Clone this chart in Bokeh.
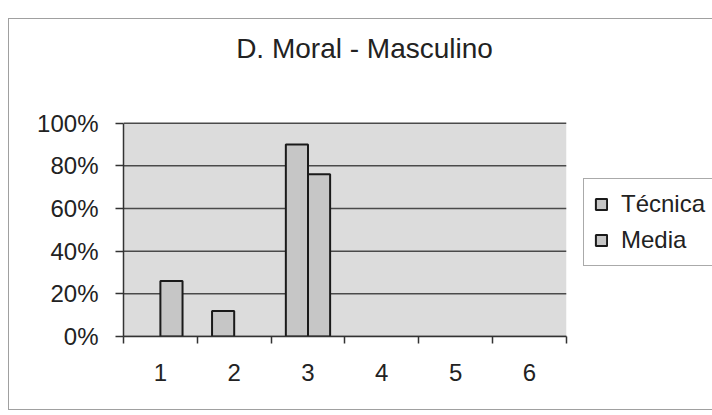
from bokeh.plotting import figure
from bokeh.models import (ColumnDataSource, FixedTicker, Legend, LegendItem,
                          NumeralTickFormatter, BoxAnnotation, Label)
from bokeh.embed import file_html
from bokeh.resources import INLINE

# ---- data ----
categories = [1, 2, 3, 4, 5, 6]
tecnica = [0.0, 0.12, 0.90, 0.0, 0.0, 0.0]
media = [0.26, 0.0, 0.76, 0.0, 0.0, 0.0]
y_ticks = [0, 0.2, 0.4, 0.6, 0.8, 1.0]
series_names = ["Técnica", "Media"]
title_text = "D. Moral - Masculino"

FONT = "Liberation Sans"
TEXT = "#222222"

x_lo = categories[0] - 0.5
x_hi = categories[-1] + 0.5
y_lo = y_ticks[0]
y_hi = y_ticks[-1]
# the frame is widened to the right and raised to the top so that the
# legend and the chart title (drawn inside it) are not clipped
frame_w, area_w = 589, 442
frame_h, area_h = 315, 212
x_end = x_lo + (x_hi - x_lo) * frame_w / area_w
y_end = y_lo + (y_hi - y_lo) * frame_h / area_h

p = figure(width=704, height=392, x_range=(x_lo, x_end), y_range=(y_lo, y_end),
           output_backend="svg", toolbar_location=None,
           min_border_left=114, min_border_right=0,
           min_border_top=0, min_border_bottom=75,
           margin=(18, 0, 0, 8))
p.styles = {"border-left": "1px solid #a0a0a0", "border-top": "1px solid #a0a0a0",
            "border-bottom": "1px solid #a0a0a0", "box-sizing": "border-box"}

p.background_fill_color = "white"
p.border_fill_color = "white"
p.outline_line_color = None

# plot area background
p.add_layout(BoxAnnotation(left=x_lo, right=x_hi, bottom=y_lo, top=y_hi,
                           fill_color="#dcdcdc", fill_alpha=1, line_color=None,
                           level="underlay"))
# horizontal gridlines
p.segment(x0=[x_lo] * len(y_ticks), x1=[x_hi] * len(y_ticks), y0=y_ticks, y1=y_ticks,
          line_color="#4a4a4a", line_width=1.5)

bw = 0.30
off = bw / 2


def src(vals, shift):
    xs = [c + shift for c, v in zip(categories, vals) if v > 0]
    ys = [v for v in vals if v > 0]
    return ColumnDataSource(dict(x=xs, top=ys))


r1 = p.vbar(x="x", top="top", width=bw, source=src(tecnica, -off),
            fill_color="#c6c6c6", line_color="#1a1a1a", line_width=2)
r2 = p.vbar(x="x", top="top", width=bw, source=src(media, off),
            fill_color="#c6c6c6", line_color="#1a1a1a", line_width=2)

# chart title (centred over the whole chart area)
p.add_layout(Label(x=241, y=288, x_units="screen", y_units="screen",
                   text=title_text, text_align="center", text_baseline="alphabetic",
                   text_font=FONT, text_font_size="28px", text_color=TEXT))

# axes
p.yaxis.ticker = FixedTicker(ticks=y_ticks)
p.yaxis.formatter = NumeralTickFormatter(format="0%")
p.yaxis.bounds = (y_lo, y_hi)
p.xaxis.ticker = FixedTicker(ticks=categories,
                             minor_ticks=[c - 0.5 for c in categories] + [x_hi])
p.xaxis.bounds = (x_lo, x_hi)
for ax in (p.xaxis[0], p.yaxis[0]):
    ax.axis_line_color = "#333333"
    ax.axis_line_width = 1.5
    ax.major_label_text_font = FONT
    ax.major_label_text_font_size = "24px"
    ax.major_label_text_color = TEXT
    ax.major_tick_line_color = "#333333"
    ax.major_tick_line_width = 1.5
    ax.major_tick_in = 0

p.yaxis.major_tick_out = 8
p.yaxis.minor_tick_line_color = None
p.yaxis.major_label_standoff = 17
p.xaxis.major_tick_out = 0
p.xaxis.minor_tick_in = 0
p.xaxis.minor_tick_out = 7
p.xaxis.minor_tick_line_color = "#333333"
p.xaxis.minor_tick_line_width = 1.5
p.xaxis.major_label_standoff = 20

p.xgrid.grid_line_color = None
p.ygrid.grid_line_color = None

legend = Legend(items=[LegendItem(label=series_names[0], renderers=[r1]),
                       LegendItem(label=series_names[1], renderers=[r2])],
                location=(460, 70))
legend.label_text_font = FONT
legend.label_text_font_size = "24px"
legend.label_text_color = TEXT
legend.glyph_width = 14
legend.glyph_height = 14
legend.label_standoff = 13
legend.label_height = 30
legend.spacing = 6
legend.padding = 10
legend.margin = 0
legend.border_line_color = "#555555"
legend.border_line_width = 1
legend.background_fill_color = "white"
legend.background_fill_alpha = 1
p.add_layout(legend, "center")

open("out.html", "w").write(file_html(p, INLINE))
